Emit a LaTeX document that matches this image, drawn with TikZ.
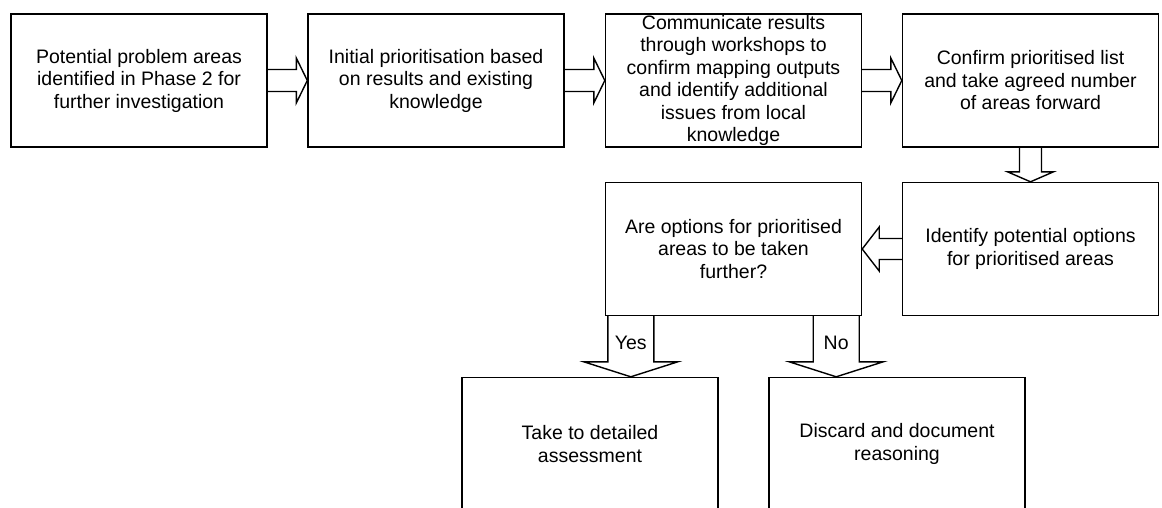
\documentclass[tikz,border=0pt]{standalone}
\usepackage{fontspec}
\setmainfont{Liberation Sans}
\usetikzlibrary{calc}

\begin{document}
\begin{tikzpicture}[x=1pt, y=-1pt, line width=1.4pt,
    box/.style={draw, minimum width=256pt, minimum height=133pt, inner sep=0pt, align=center, font=\fontsize{19.5}{22.5}\selectfont},
    tag/.style={inner sep=0pt, font=\fontsize{19.5}{22.5}\selectfont}]
    \useasboundingbox (0,0) rectangle (1162,507);
    \clip (0,0) rectangle (1162,507);

    % first row
    \node[box] (areas) at (139, 80.5) {Potential problem areas\\identified in Phase 2 for\\further investigation};
    \node[box] (initial) at (436, 80.5) {Initial prioritisation based\\on results and existing\\knowledge};
    \node[box] (workshops) at (733.5, 80.5) {Communicate results\\through workshops to\\confirm mapping outputs\\and identify additional\\issues from local\\knowledge};
    \node[box] (confirm) at (1030.5, 80.5) {Confirm prioritised list\\and take agreed number\\of areas forward};

    % second row
    \node[box] (options) at (1030.5, 249) {Identify potential options\\for prioritised areas};
    \node[box] (question) at (733.5, 249) {Are options for prioritised\\areas to be taken\\further?};

    % outcomes
    \node[box] (assess) at (590, 444) {Take to detailed\\assessment};
    \node[box] (discard) at (897, 444) {Discard and document\\reasoning};

    % block arrows
    \foreach \a/\b in {areas/initial, initial/workshops, workshops/confirm}
      \draw ($(\a.east)+(0,-11)$) -- ($(\b.west)+(-11,-11)$) -- ++(0,-11.5) -- (\b.west) -- ++(-11,22.5) -- ++(0,-11.5) -- ($(\a.east)+(0,11)$);
    \draw ($(confirm.south)+(-11,0)$) -- ($(options.north)+(-11,-10)$) -- ++(-12,0) -- (options.north) -- ++(23,-10) -- ++(-12,0) -- ($(confirm.south)+(11,0)$);
    \draw ($(options.west)+(0,-10.5)$) -- ($(question.east)+(17,-10.5)$) -- ++(0,-11.5) -- (question.east) -- ++(17,22) -- ++(0,-11.5) -- ($(options.west)+(0,10.5)$);

    % yes / no
    \coordinate (yes) at ($(question.south west)+(26,0)$);
    \coordinate (yestip) at (yes |- assess.north);
    \coordinate (no) at ($(question.south east)+(-26,0)$);
    \coordinate (notip) at (no |- discard.north);
    \foreach \s/\t in {yes/yestip, no/notip}
      \draw ($(\s)+(-23,0)$) -- ($(\t)+(-23,-15)$) -- ++(-24,0) -- (\t) -- ++(47,-15) -- ++(-24,0) -- ($(\s)+(23,0)$);
    \node[tag] (yeslbl) at ($(yes)+(0,27)$) {Yes};
    \node[tag] (nolbl) at ($(no)+(0,27)$) {No};

\end{tikzpicture}
\end{document}
